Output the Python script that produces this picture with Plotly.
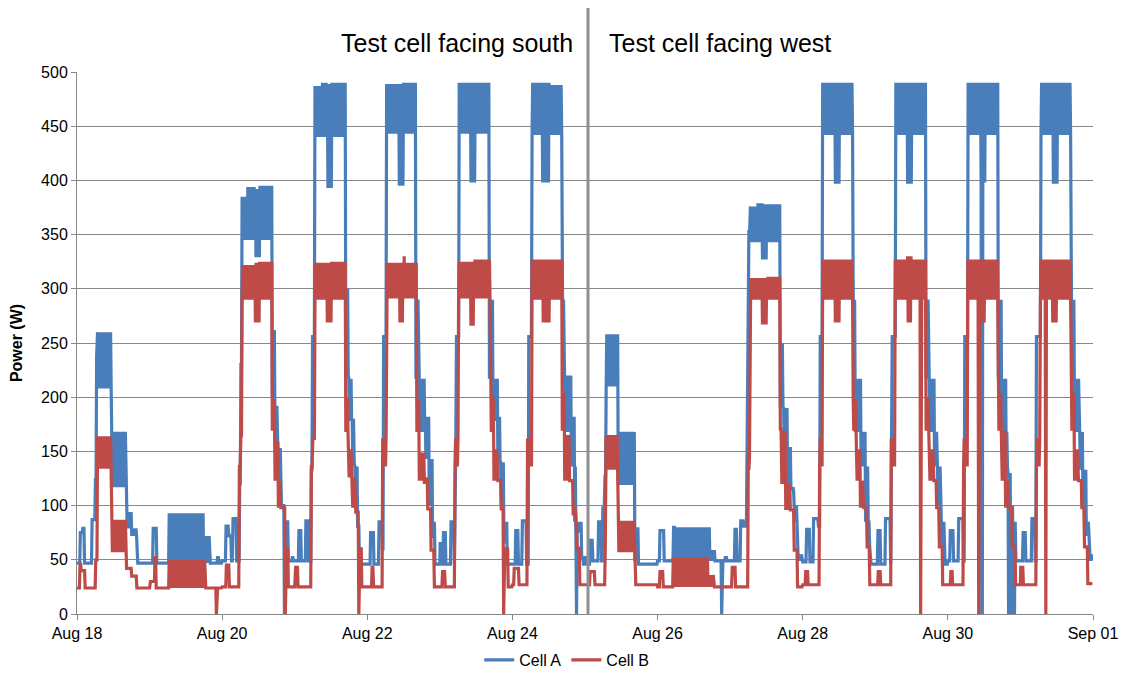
import datetime
import plotly.graph_objects as go

# each entry: (hour of day, low value, high value) - value holds until the next entry
# when low != high the logger swings between the two (the dense bands)
a_0818 = [(0, 47, 47), (1.1, 75, 75), (1.9, 79, 79), (2.5, 47, 47), (5.0, 87, 87), (6.1, 124, 124), (6.5, 238, 238),
          (6.8, 208, 260), (11.5, 117, 168), (16.4, 79, 94), (18.1, 72, 79), (19.9, 47, 47)]
a_0819 = [(0, 47, 47), (1.2, 79, 79), (2.4, 47, 47), (6.3, 47, 93), (17.9, 47, 72), (20.1, 47, 47), (22.5, 52, 52), (23.0, 47, 47)]
a_0820 = [(0, 49, 49), (1.3, 81, 81), (2.2, 72, 72), (3.1, 49, 49), (3.6, 88, 88), (4.8, 49, 49), (5.8, 120, 120), (6.2, 230, 230),
          (6.6, 345, 385), (8.5, 345, 394), (11.0, 329, 392), (12.5, 345, 395), (16.6, 200, 262), (17.5, 153, 192),
          (18.5, 120, 153), (19.6, 100, 100), (20.6, 0, 0), (20.8, 85, 85), (21.9, 49, 49), (23.2, 52, 52), (23.6, 49, 49)]
a_0821 = [(0, 49, 49), (1.4, 77, 77), (2.2, 49, 49), (3.7, 86, 86), (4.6, 49, 49), (5.5, 133, 133), (5.9, 256, 256),
          (6.7, 440, 487), (9.0, 440, 490), (10.8, 393, 489), (12.3, 440, 490), (16.9, 220, 300), (17.9, 178, 217),
          (19.0, 140, 180), (19.9, 100, 136), (20.8, 81, 81), (21.4, 46, 46)]
a_0822 = [(0, 46, 46), (1.1, 75, 75), (2.2, 46, 46), (3.9, 85, 85), (5.0, 60, 60), (5.4, 256, 256), (6.4, 443, 489),
          (10.6, 395, 489), (12.0, 443, 490), (16.1, 217, 290), (17.2, 168, 217), (19.2, 143, 182), (20.5, 100, 143),
          (21.6, 70, 85), (22.4, 46, 46)]
a_0823 = [(0, 46, 46), (0.1, 65, 65), (0.5, 46, 46), (1.2, 75, 75), (2.0, 46, 46), (3.7, 85, 85), (4.8, 46, 46), (5.0, 150, 150),
          (5.5, 256, 256), (6.4, 443, 490), (10.1, 398, 490), (11.7, 443, 490), (16.4, 217, 290), (17.6, 178, 217),
          (19.2, 140, 182), (20.1, 100, 140), (21.2, 65, 85), (22.3, 46, 46)]
a_0824 = [(0, 46, 46), (1.1, 77, 77), (2.0, 46, 46), (3.3, 86, 86), (4.7, 46, 46), (5.4, 256, 256), (6.5, 442, 490),
          (10.0, 398, 490), (12.3, 442, 488), (16.5, 220, 290), (17.3, 168, 220), (19.5, 136, 182), (20.6, 85, 136),
          (21.2, 0, 0), (21.4, 75, 85), (22.9, 52, 52), (23.5, 46, 46)]
a_0825 = [(0, 52, 52), (0.5, 46, 46), (1.7, 68, 68), (2.6, 49, 49), (4.5, 85, 85), (5.5, 49, 49), (5.9, 98, 98), (6.6, 127, 127),
          (7.0, 210, 258), (11.0, 119, 168), (16.5, 49, 80), (17.7, 46, 46)]
a_0826 = [(0, 49, 49), (0.8, 77, 77), (2.2, 49, 49), (5.3, 80, 80), (5.8, 49, 80), (17.3, 49, 59), (19.0, 49, 49),
          (21.2, 0, 0), (21.4, 49, 49), (22.4, 52, 52), (23.0, 49, 49)]
a_0827 = [(0, 49, 49), (1.6, 78, 78), (2.3, 49, 49), (3.5, 86, 86), (4.4, 81, 81), (5.4, 88, 88), (5.7, 214, 214), (6.2, 353, 353),
          (6.7, 343, 376), (9.0, 343, 379), (10.7, 327, 378), (12.3, 343, 378), (16.6, 191, 250), (17.7, 149, 190),
          (19.0, 117, 154), (20.1, 114, 117), (21.2, 85, 100), (22.3, 49, 55)]
a_0828 = [(0, 48, 48), (1.3, 78, 78), (2.4, 48, 48), (3.6, 88, 88), (5.2, 81, 81), (5.8, 256, 256), (6.6, 442, 490),
          (10.8, 397, 490), (12.4, 442, 490), (16.7, 217, 290), (17.4, 168, 217), (19.3, 136, 168), (20.8, 85, 136),
          (21.9, 62, 85), (22.4, 46, 46)]
a_0829 = [(0, 46, 46), (0.9, 77, 77), (1.8, 46, 46), (3.4, 88, 88), (5.1, 46, 46), (5.3, 150, 150), (5.6, 256, 256),
          (6.8, 442, 490), (10.7, 397, 490), (12.3, 442, 490), (16.8, 217, 290), (17.9, 168, 217), (19.6, 136, 168),
          (20.7, 100, 136), (21.8, 62, 85), (22.9, 46, 46)]
a_0830 = [(0, 49, 49), (0.8, 77, 77), (1.9, 49, 49), (3.6, 88, 88), (5.2, 49, 49), (5.6, 256, 256), (6.7, 442, 490),
          (11.0, 398, 490), (11.2, 0, 0), (11.6, 398, 490), (12.4, 442, 490), (16.7, 217, 290), (17.8, 168, 217),
          (19.3, 136, 168), (19.9, 0, 130), (20.8, 0, 100), (21.8, 0, 85), (22.5, 49, 49)]
a_0831 = [(0, 49, 49), (0.9, 75, 75), (1.8, 49, 49), (3.8, 88, 88), (4.9, 49, 49), (5.3, 256, 256), (6.8, 442, 490),
          (10.7, 397, 490), (12.3, 442, 490), (16.8, 217, 290), (17.9, 168, 217), (19.6, 133, 168), (20.7, 98, 133),
          (21.8, 72, 85), (22.9, 49, 55)]

b_0818 = [(0, 24, 24), (1.0, 46, 46), (1.4, 40, 40), (2.7, 24, 24), (6.2, 50, 50), (6.8, 134, 164), (11.5, 57, 87),
          (16.4, 42, 42), (18.1, 35, 35), (19.8, 24, 24)]
b_0819 = [(0, 24, 24), (0.3, 30, 30), (1.8, 52, 52), (2.2, 24, 24), (6.3, 24, 50), (18.4, 24, 24), (22.1, 0, 0), (22.3, 24, 24)]
b_0820 = [(0, 25, 25), (1.4, 45, 45), (2.4, 25, 25), (5.7, 136, 136), (6.2, 165, 165), (6.6, 290, 322), (11.0, 269, 324),
          (12.4, 290, 325), (16.6, 169, 198), (17.5, 123, 159), (18.6, 98, 123), (19.6, 98, 98), (20.9, 0, 0),
          (21.1, 60, 60), (21.9, 25, 25)]
b_0821 = [(0, 25, 25), (0.3, 43, 43), (1.1, 25, 25), (5.5, 136, 136), (6.0, 162, 162), (6.7, 290, 324), (10.8, 269, 324),
          (12.2, 290, 325), (16.9, 168, 200), (17.8, 126, 152), (19.0, 98, 126), (20.0, 94, 94), (21.2, 0, 0),
          (21.4, 60, 60), (22.2, 25, 25)]
b_0822 = [(0, 25, 25), (1.6, 43, 43), (2.1, 25, 25), (5.1, 136, 162), (6.4, 291, 324), (10.6, 269, 324), (12.0, 291, 330),
          (12.4, 291, 324), (16.4, 168, 198), (17.2, 123, 149), (18.9, 120, 126), (20.0, 97, 97), (21.1, 59, 59),
          (22.2, 25, 25)]
b_0823 = [(0, 25, 25), (0.9, 39, 39), (1.8, 25, 25), (5.0, 136, 162), (6.2, 291, 325), (10.1, 266, 325), (11.4, 291, 327),
          (16.8, 168, 200), (17.9, 123, 152), (19.2, 123, 123), (20.3, 97, 97), (21.1, 0, 0), (21.3, 60, 60),
          (22.6, 25, 25)]
b_0824 = [(0, 27, 27), (0.6, 42, 42), (2.2, 27, 27), (5.0, 136, 162), (6.5, 290, 327), (10.0, 269, 327), (12.3, 290, 327),
          (16.5, 169, 204), (17.3, 123, 165), (18.9, 123, 123), (20.1, 91, 98), (21.2, 59, 62), (22.3, 27, 27)]
b_0825 = [(0, 27, 27), (1.7, 39, 39), (3.3, 27, 27), (6.7, 60, 60), (7.0, 133, 165), (11.0, 57, 86), (16.6, 27, 27)]
b_0826 = [(0, 25, 25), (0.8, 39, 39), (1.9, 25, 25), (5.2, 25, 52), (16.9, 25, 36), (18.6, 25, 25)]
b_0827 = [(0, 25, 25), (0.7, 43, 43), (1.8, 25, 25), (6.0, 133, 146), (6.6, 290, 310), (10.7, 267, 310), (12.3, 290, 311),
          (16.6, 169, 172), (17.1, 120, 169), (18.4, 96, 120), (20.1, 96, 96), (21.2, 59, 59), (22.3, 25, 25)]
b_0828 = [(0, 27, 27), (1.0, 39, 39), (1.8, 27, 27), (5.6, 136, 162), (6.6, 290, 327), (10.8, 269, 327), (12.4, 290, 327),
          (16.7, 169, 198), (17.8, 123, 152), (19.1, 98, 123), (20.2, 98, 98), (21.3, 62, 62), (22.2, 27, 27)]
b_0829 = [(0, 27, 27), (1.0, 39, 39), (1.8, 27, 27), (5.3, 136, 162), (6.6, 290, 327), (10.7, 269, 330), (12.0, 290, 327),
          (15.0, 0, 0), (15.2, 290, 327), (16.8, 169, 200), (17.9, 123, 152), (19.2, 123, 123), (20.3, 98, 98),
          (21.2, 62, 62), (22.3, 27, 27)]
b_0830 = [(0, 27, 27), (1.0, 39, 39), (1.6, 27, 27), (5.2, 136, 162), (6.6, 290, 327), (10.2, 0, 0), (10.4, 290, 327),
          (11.0, 269, 327), (12.4, 290, 327), (16.7, 169, 204), (17.8, 123, 169), (19.1, 98, 123), (20.2, 98, 98),
          (21.3, 62, 62), (22.4, 27, 27)]
b_0831 = [(0, 27, 27), (0.1, 43, 43), (1.0, 27, 27), (5.3, 136, 162), (6.6, 290, 327), (8.4, 0, 0), (8.6, 290, 327),
          (10.7, 269, 327), (12.0, 290, 327), (16.8, 169, 204), (17.9, 123, 152), (19.2, 123, 123), (20.3, 98, 98),
          (21.2, 62, 62), (22.3, 28, 28)]

cell_a_days = [a_0818, a_0819, a_0820, a_0821, a_0822, a_0823, a_0824,
               a_0825, a_0826, a_0827, a_0828, a_0829, a_0830, a_0831]
cell_b_days = [b_0818, b_0819, b_0820, b_0821, b_0822, b_0823, b_0824,
               b_0825, b_0826, b_0827, b_0828, b_0829, b_0830, b_0831]

start = datetime.datetime(2014, 8, 18)
switch_time = start + datetime.timedelta(days=7, hours=1)  # cell turned from south to west


def build(days, step=0.2):
    times, values = [], []
    k = 0
    for d, segs in enumerate(days):
        for i, (h0, lo, hi) in enumerate(segs):
            h1 = segs[i + 1][0] if i + 1 < len(segs) else 24
            n = max(1, round((h1 - h0) / step))
            for j in range(n):
                times.append(start + datetime.timedelta(hours=d * 24 + h0 + j * (h1 - h0) / n))
                values.append(lo if k % 2 == 0 else hi)
                k += 1
    return times, values


ta, va = build(cell_a_days)
tb, vb = build(cell_b_days)

font_name = 'Liberation Sans, Arial, sans-serif'
grey = '#878787'

fig = go.Figure()

fig.add_trace(
    go.Scatter(
        name='Cell A',
        x=ta,
        y=va,
        mode='lines',
        line=dict(color='#4a7ebb', width=3.2)
    )
)

fig.add_trace(
    go.Scatter(
        name='Cell B',
        x=tb,
        y=vb,
        mode='lines',
        line=dict(color='#be4b48', width=3.2)
    )
)

# south / west separator
fig.add_shape(
    type='line',
    xref='x', yref='paper',
    x0=switch_time, x1=switch_time,
    y0=0, y1=1.118,
    line=dict(color='#8f8f8f', width=3)
)

fig.add_annotation(
    text='Test cell facing south',
    xref='x', yref='paper',
    x=switch_time, y=1.054,
    xanchor='right', yanchor='middle',
    xshift=-13,
    showarrow=False,
    font=dict(size=25, color='black', family=font_name)
)

fig.add_annotation(
    text='Test cell facing west',
    xref='x', yref='paper',
    x=switch_time, y=1.054,
    xanchor='left', yanchor='middle',
    xshift=19,
    showarrow=False,
    font=dict(size=25, color='black', family=font_name)
)

fig.update_layout(
    width=1127,
    height=680,
    margin=dict(l=69, r=42, t=64, b=74, autoexpand=False),
    paper_bgcolor='white',
    plot_bgcolor='white',
    font=dict(family=font_name, size=16, color='black'),
    showlegend=True,
    legend=dict(
        orientation='h',
        x=0.482, xanchor='center',
        y=-0.085, yanchor='middle',
        font=dict(size=16),
        itemwidth=30
    ),

    xaxis=dict(
        type='date',
        range=[start, start + datetime.timedelta(days=14)],
        tick0=start,
        dtick=2 * 86400000,
        tickformat='%b %d',
        ticks='outside',
        ticklen=5,
        tickcolor=grey,
        showline=True,
        linecolor=grey,
        linewidth=1,
        showgrid=False,
        zeroline=False,
        tickfont=dict(size=16)
    ),

    yaxis=dict(
        range=[0, 500],
        dtick=50,
        ticks='outside',
        ticklen=5,
        tickcolor=grey,
        showline=True,
        linecolor=grey,
        linewidth=1,
        showgrid=True,
        gridcolor=grey,
        gridwidth=1,
        zeroline=False,
        tickfont=dict(size=16),
        title=dict(text='<b>Power (W)</b>', font=dict(size=16), standoff=14)
    )
)

fig.write_html("out.html")
